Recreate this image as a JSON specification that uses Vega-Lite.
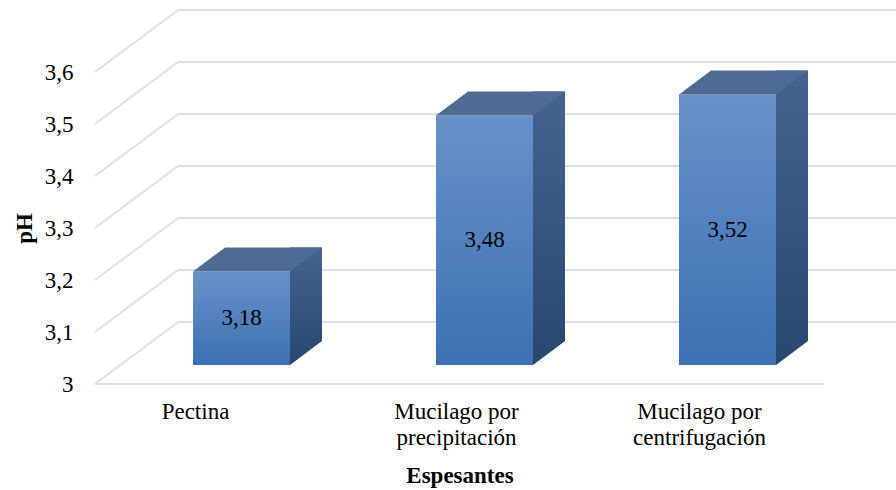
{
  "$schema": "https://vega.github.io/schema/vega-lite/v6.json",
  "width": 729,
  "height": 312,
  "autosize": {"type": "none"},
  "padding": {"left": 95, "top": 72, "right": 72, "bottom": 106},
  "background": "white",
  "config": {
    "font": "Times New Roman, Liberation Serif, serif",
    "view": {"stroke": null},
    "locale": {"number": {"decimal": ",", "thousands": ".", "grouping": [3], "currency": ["", " €"]}},
    "axis": {
      "domain": false, "ticks": false, "grid": false,
      "labelFontSize": 23, "labelColor": "#000000", "labelFont": "Times New Roman, Liberation Serif, serif",
      "titleFontSize": 23, "titleFontWeight": "bold", "titleColor": "#000000", "titleFont": "Times New Roman, Liberation Serif, serif"
    },
    "axisY": {"labelPadding": 22, "titlePadding": 8},
    "axisX": {"labelAngle": 0, "labelPadding": 16, "labelBaseline": "top", "labelLineHeight": 26, "titlePadding": 15}
  },
  "datasets": {
    "ticks": [{"v": 3}, {"v": 3.1}, {"v": 3.2}, {"v": 3.3}, {"v": 3.4}, {"v": 3.5}, {"v": 3.6}],
    "ph": [
      {"Espesante": "Pectina", "pH": 3.18},
      {"Espesante": "Mucilago por precipitación", "pH": 3.48},
      {"Espesante": "Mucilago por centrifugación", "pH": 3.52}
    ]
  },
  "layer": [
    {
      "data": {"name": "ticks"},
      "mark": {"type": "rule", "color": "#D6E0F1", "strokeWidth": 1.8},
      "encoding": {
        "x": {"value": 83},
        "x2": {"value": 812},
        "y": {
          "field": "v", "type": "quantitative", "title": "pH",
          "scale": {"domain": [3, 3.6], "nice": false, "zero": false},
          "axis": {"values": [3, 3.1, 3.2, 3.3, 3.4, 3.5, 3.6], "format": ".1~f"}
        },
        "yOffset": {"value": -62}
      }
    },
    {
      "data": {"name": "ticks"},
      "mark": {"type": "rule", "y2Offset": -62, "color": "#D6E0F1", "strokeWidth": 1.8},
      "encoding": {
        "x": {"value": 0},
        "x2": {"value": 83},
        "y": {"field": "v", "type": "quantitative", "title": "pH", "axis": {"values": [3, 3.1, 3.2, 3.3, 3.4, 3.5, 3.6], "format": ".1~f"}},
        "y2": {"field": "v"}
      }
    },
    {
      "data": {"name": "ticks"},
      "transform": [{"filter": "datum.v === 3"}],
      "mark": {"type": "rule", "color": "#D6E0F1", "strokeWidth": 1.8},
      "encoding": {
        "x": {"value": 0},
        "x2": {"value": "width"},
        "y": {"field": "v", "type": "quantitative", "title": "pH", "axis": {"values": [3, 3.1, 3.2, 3.3, 3.4, 3.5, 3.6], "format": ".1~f"}}
      }
    },
    {
      "data": {"name": "ph"},
      "mark": {
        "type": "bar", "width": 32, "xOffset": 89.5, "yOffset": -43, "y2Offset": -19,
        "fill": {"gradient": "linear", "x1": 0, "y1": 0, "x2": 0, "y2": 1,
          "stops": [{"offset": 0, "color": "#44638F"}, {"offset": 1, "color": "#274670"}]}
      },
      "encoding": {
        "x": {"field": "Espesante", "type": "nominal", "sort": null, "title": "Espesantes"},
        "y": {"field": "pH", "type": "quantitative", "title": "pH", "axis": {"values": [3, 3.1, 3.2, 3.3, 3.4, 3.5, 3.6], "format": ".1~f"}},
        "y2": {"datum": 3}
      }
    },
    {
      "data": {"name": "ph"},
      "mark": {
        "type": "point", "filled": true, "opacity": 1, "size": 4, "strokeWidth": 0,
        "shape": "M-0.5,1L34,1L34,-25.5L0,0Z",
        "xOffset": 73.5, "yOffset": -19, "fill": "white"
      },
      "encoding": {
        "x": {"field": "Espesante", "type": "nominal", "sort": null, "title": "Espesantes"},
        "y": {"datum": 3, "type": "quantitative", "title": "pH", "axis": {"values": [3, 3.1, 3.2, 3.3, 3.4, 3.5, 3.6], "format": ".1~f"}}
      }
    },
    {
      "data": {"name": "ph"},
      "mark": {
        "type": "bar", "width": 97, "xOffset": 25, "yOffset": -19, "y2Offset": -19,
        "fill": {"gradient": "linear", "x1": 0, "y1": 0, "x2": 0, "y2": 1,
          "stops": [{"offset": 0, "color": "#6891C9"}, {"offset": 1, "color": "#3C71B3"}]}
      },
      "encoding": {
        "x": {
          "field": "Espesante", "type": "nominal", "sort": null, "title": "Espesantes",
          "scale": {"paddingInner": 0, "paddingOuter": 0},
          "axis": {
            "labelExpr": "split(replace(datum.label, ' por ', ' por|'), '|')",
            "labelOffset": {"condition": {"test": "datum.value === 'Pectina'", "value": -21}, "value": -3}
          }
        },
        "y": {"field": "pH", "type": "quantitative", "title": "pH", "axis": {"values": [3, 3.1, 3.2, 3.3, 3.4, 3.5, 3.6], "format": ".1~f"}},
        "y2": {"datum": 3}
      }
    },
    {
      "data": {"name": "ph"},
      "mark": {
        "type": "point", "filled": true, "opacity": 1, "size": 4, "strokeWidth": 0,
        "shape": "M-48.5,0L48.5,0L80.5,-24L-16.5,-24Z",
        "xOffset": 25, "yOffset": -19, "fill": "#4F6B93"
      },
      "encoding": {
        "x": {"field": "Espesante", "type": "nominal", "sort": null, "title": "Espesantes"},
        "y": {"field": "pH", "type": "quantitative", "title": "pH", "axis": {"values": [3, 3.1, 3.2, 3.3, 3.4, 3.5, 3.6], "format": ".1~f"}}
      }
    },
    {
      "data": {"name": "ph"},
      "transform": [{"calculate": "(datum.pH + 3) / 2", "as": "mitad"}],
      "mark": {"type": "text", "xOffset": 25, "yOffset": -19, "fontSize": 23, "color": "#000000", "font": "Times New Roman, Liberation Serif, serif"},
      "encoding": {
        "x": {"field": "Espesante", "type": "nominal", "sort": null, "title": "Espesantes"},
        "y": {"field": "mitad", "type": "quantitative", "title": "pH", "axis": {"values": [3, 3.1, 3.2, 3.3, 3.4, 3.5, 3.6], "format": ".1~f"}},
        "text": {"field": "pH", "type": "quantitative", "format": ".2f"}
      }
    }
  ]
}
